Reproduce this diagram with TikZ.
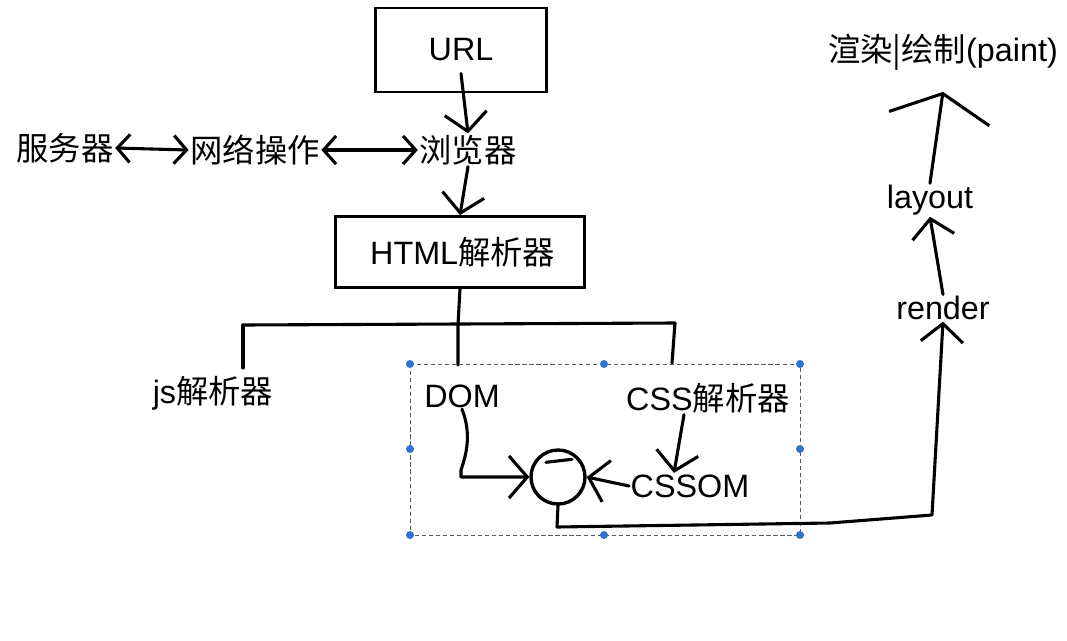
\documentclass[tikz,border=0pt]{standalone}
\usepackage{fontspec}
\setmainfont{Liberation Sans}
\newfontfamily\cjk{Noto Sans CJK SC}
\usetikzlibrary{positioning}
\usetikzlibrary{arrows.meta}
\definecolor{selblue}{HTML}{2F72D2}
\tikzset{
    mybox/.style = {rectangle, draw=black, line width=2.1pt, align=center, inner sep=0pt},
    mytext/.style = {inner sep=1pt, align=center, text=black},
    mymerge/.style = {circle, draw=black, line width=2.4pt, minimum size=1.35cm, inner sep=0pt},
    mydot/.style = {circle, fill=selblue, inner sep=0pt, minimum size=0.2cm},
    edgen/.style = {-, line width=2.2pt, black, line cap=round, line join=round},
    edgea/.style = {-{Straight Barb[length=13pt,width=30pt]}, line width=2.2pt, black, line cap=round, line join=round},
    edgeaa/.style = {-{Straight Barb[length=18pt,width=72pt]}, line width=2.2pt, black, line cap=round},
    edgeb/.style = {{Straight Barb[length=9pt,width=20pt]}-{Straight Barb[length=9pt,width=20pt]}, line width=2.2pt, black},
    edged/.style = {-, thin, gray!70!black, dash pattern=on 3pt off 2pt}, % selection
}

\begin{document}
\begin{tikzpicture}[x=0.025cm, y=-0.025cm, font=\fontsize{23}{28}\selectfont]
  \useasboundingbox (0,0) rectangle (1067,640);
  % request
  \node[mybox, minimum width=4.275cm, minimum height=2.1cm] (url) at (461,50) {URL};
  \node[mytext] (browser) at (468,150) {\cjk 浏览器};
  \node[mytext] (net) at (255,150) {\cjk 网络操作};
  \node[mytext] (server) at (65,148) {\cjk 服务器};
  \node[mybox, minimum width=6.225cm, minimum height=1.775cm] (html) at (460,252) {\,HTML{\cjk 解析器}};
  \draw[edgea] ([yshift=0.5cm]url.south) -- (browser.north);
  \draw[edgeb] (server.east) -- (net.west);
  \draw[edgeb] (net.east) -- (browser.west);
  \draw[edgea] (browser.south) -- (html.north);
  % parsers
  \node[mytext] (js) at (213,393) {js{\cjk 解析器}};
  \node[mytext] (dom) at (462,396) {DOM};
  \node[mytext] (css) at (708,398) {CSS{\cjk 解析器}};
  \node[mytext] (cssom) at (690,486) {CSSOM};
  \coordinate (fork) at (458,325);
  \coordinate (forkl) at (243,325);
  \coordinate (forkr) at (675,323);
  \draw[edgen] (html.south) -- (fork) -- (458,365);
  \draw[edgen] (forkl) -- (forkr);
  \draw[edgen] (forkl) -- (243,368);
  \draw[edgen] (forkr) -- (672,363);
  % selection
  \draw[edged] (410,364) rectangle (800,535);
  \foreach \x/\y [count=\i] in {410/364, 604/364, 800/364, 410/449, 800/449, 410/535, 604/535, 800/535}
    \node[mydot] (sel\i) at (\x,\y) {};
  % merge
  \node[mymerge] (merge) at (558,477) {};
  \draw[edgen] ([shift={(-12,14)}]merge.north) -- ([shift={(14,11)}]merge.north);
  \draw[edgea] (dom.south) .. controls (472,435) and (466,455) .. (461,470) -- (461,477) -- (merge.west);
  \draw[edgea] ([xshift=-0.6cm]css.south) -- ([xshift=-0.4cm]cssom.north);
  \draw[edgea] (cssom.west) -- (merge.east);
  % output
  \node[mytext] (render) at (943,308) {render};
  \node[mytext] (layout) at (930,200) {layout};
  \node[mytext] (paint) at (943,52) {{\cjk 渲染|绘制}(paint)};
  \coordinate (bend) at (932,515);
  \draw[edgea] (merge.south) -- (557,527) -- (830,523) -- (bend) -- (render.south);
  \draw[edgea] (render.north) -- (layout.south);
  \draw[edgeaa] (layout.north) -- ([yshift=-0.5cm]paint.south);
\end{tikzpicture}
\end{document}
